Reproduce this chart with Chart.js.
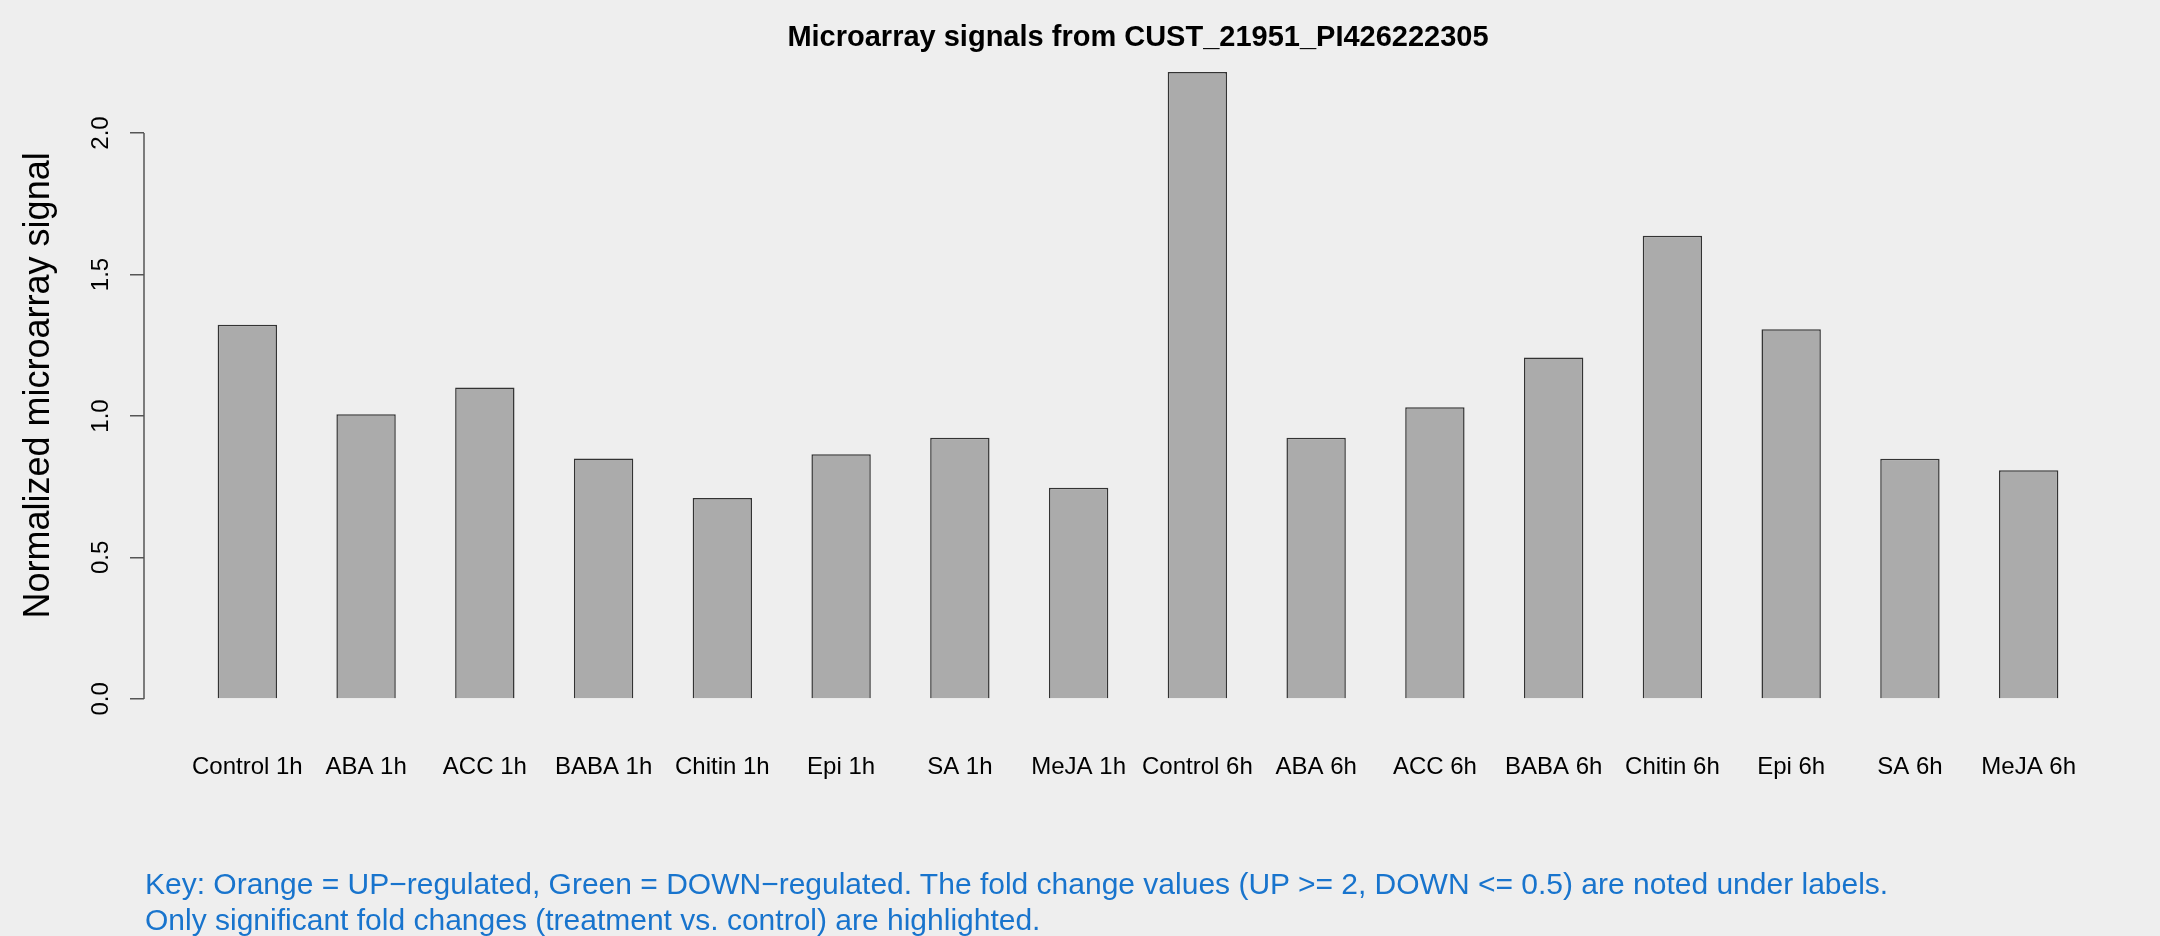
<!DOCTYPE html>
<html>
<head>
<meta charset="utf-8">
<title>Microarray signals</title>
<script src="https://cdn.jsdelivr.net/npm/chart.js@4.4.1/dist/chart.umd.min.js"></script>
<style>
  html, body { margin: 0; padding: 0; background: #eeeeee; }
  #wrap { position: relative; width: 2160px; height: 936px; overflow: hidden; }
  #note {
    position: absolute; left: 145px; top: 866px;
    font-family: 'Liberation Sans', Arial, sans-serif;
    font-size: 30px; line-height: 36px; color: #1874cd; white-space: nowrap;
  }
</style>
</head>
<body>
<div id="wrap">
  <canvas id="barChart"></canvas>
  <div id="note">Key: Orange = UP−regulated, Green = DOWN−regulated. The fold change values (UP &gt;= 2, DOWN &lt;= 0.5) are noted under labels.<br>Only significant fold changes (treatment vs. control) are highlighted.</div>
</div>
<script>
const TITLE = 'Microarray signals from CUST_21951_PI426222305';
const Y_TITLE = 'Normalized microarray signal';

const sampleLabels = ['Control 1h', 'ABA 1h', 'ACC 1h', 'BABA 1h', 'Chitin 1h', 'Epi 1h', 'SA 1h', 'MeJA 1h',
                      'Control 6h', 'ABA 6h', 'ACC 6h', 'BABA 6h', 'Chitin 6h', 'Epi 6h', 'SA 6h', 'MeJA 6h'];
const signalValues = [1.322, 1.006, 1.101, 0.850, 0.710, 0.865, 0.923, 0.746,
                      2.216, 0.923, 1.031, 1.207, 1.637, 1.306, 0.849, 0.808];
const yTicks = [0, 0.5, 1.0, 1.5, 2.0];

// R barplot layout: width 1, space 1 -> bar i spans [2i+1, 2i+2]
const barX = sampleLabels.map((_, i) => 2 * i + 1.5);
const xSpan = [1, 2 * sampleLabels.length];
const xPad = 0.04 * (xSpan[1] - xSpan[0]);
const yMaxVal = Math.max(...signalValues);

Chart.defaults.font.family = "'Liberation Sans', Arial, sans-serif";
Chart.defaults.color = '#000';

// title centred over the plot region and the short R-style y axis line
const rStyle = {
  id: 'rStyle',
  afterDraw(chart) {
    const { ctx, chartArea, scales } = chart;
    const y = scales.y;
    ctx.save();
    ctx.strokeStyle = '#555';
    ctx.lineWidth = 1.5;
    ctx.beginPath();
    ctx.moveTo(y.right, y.getPixelForValue(yTicks[0]));
    ctx.lineTo(y.right, y.getPixelForValue(yTicks[yTicks.length - 1]));
    ctx.stroke();

    ctx.fillStyle = '#000';
    ctx.font = "bold 29px 'Liberation Sans', Arial, sans-serif";
    ctx.textAlign = 'center';
    ctx.textBaseline = 'alphabetic';
    ctx.fillText(TITLE, (chartArea.left + chartArea.right) / 2, chartArea.top - 1);
    ctx.restore();
  }
};

new Chart(document.getElementById('barChart'), {
  type: 'bar',
  data: {
    datasets: [{
      data: signalValues.map((v, i) => ({ x: barX[i], y: v })),
      backgroundColor: '#ababab',
      borderColor: '#333',
      borderWidth: 1.5,
      categoryPercentage: 1,
      barPercentage: 0.5
    }]
  },
  options: {
    responsive: true,
    maintainAspectRatio: false,
    animation: false,
    layout: { padding: { top: 46.8, right: 28, bottom: 0, left: 0 } },
    plugins: {
      legend: { display: false },
      tooltip: { enabled: false }
    },
    scales: {
      x: {
        type: 'linear',
        offset: false,
        min: xSpan[0] - xPad,
        max: xSpan[1] + xPad,
        grid: { display: false, drawTicks: false },
        border: { display: false },
        afterBuildTicks: s => { s.ticks = barX.map(v => ({ value: v })); },
        afterFit: s => { s.height = 212; },
        ticks: {
          autoSkip: false,
          maxRotation: 0,
          padding: 29,
          font: { size: 24 },
          callback: (v, i) => sampleLabels[i]
        }
      },
      y: {
        min: -0.04 * yMaxVal,
        max: 1.04 * yMaxVal,
        grid: { drawOnChartArea: false, drawTicks: true, tickLength: 14, color: '#555', lineWidth: 1.5 },
        border: { display: false },
        afterBuildTicks: s => { s.ticks = yTicks.map(v => ({ value: v })); },
        afterFit: s => { s.width = 144; },
        ticks: {
          minRotation: 90,
          maxRotation: 90,
          crossAlign: 'center',
          padding: 12,
          font: { size: 24 },
          callback: v => v.toFixed(1)
        },
        title: {
          display: true,
          text: Y_TITLE,
          font: { size: 36, lineHeight: 1.2 },
          padding: { top: 17, bottom: 0 }
        }
      }
    }
  },
  plugins: [rStyle]
});
</script>
</body>
</html>
